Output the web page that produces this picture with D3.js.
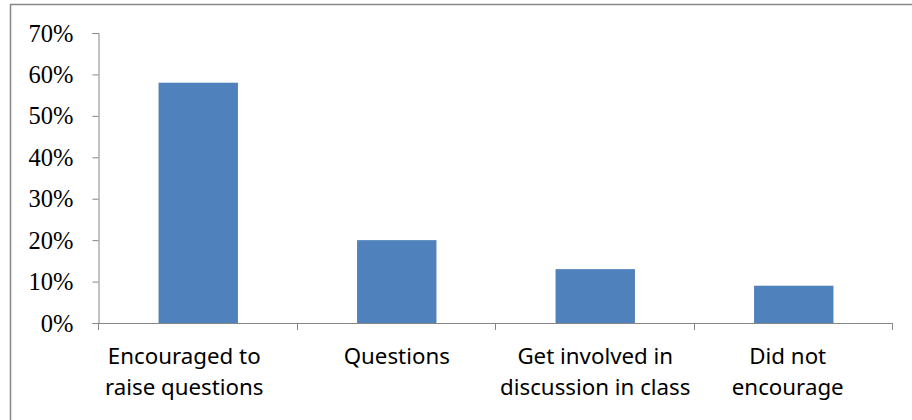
<!DOCTYPE html>
<html><head><meta charset="utf-8">
<script src="https://cdn.jsdelivr.net/npm/d3@7"></script>
<style>body{margin:0;background:#fff;overflow:hidden}svg{display:block}</style>
</head><body>
<svg id="c" width="912" height="420"></svg>
<script>
const categories = [["Encouraged to","raise questions"],["Questions"],["Get involved in","discussion in class"],["Did not","encourage"]];
const values = [0.58, 0.20, 0.13, 0.09];
const yTicks = [0, 0.1, 0.2, 0.3, 0.4, 0.5, 0.6, 0.7];

(function(){
const svg = d3.select("#c");
svg.append("rect").attr("x",10.5).attr("y",4.5).attr("width",920).attr("height",430)
  .attr("fill","#fff").attr("stroke","#878787").attr("stroke-width",1.5);

const pl=99, pr=893, pt=33, pb=323;
const labelShift = [-14, 0, 0, -6];
const x = d3.scaleBand().domain(d3.range(values.length)).range([pl,pr]).paddingInner(0.6).paddingOuter(0.3);
const xb = d3.scaleBand().domain(d3.range(values.length)).range([pl,pr]);
const y = d3.scaleLinear().domain([0,0.7]).range([pb,pt]);

svg.selectAll(".bar").data(values).enter().append("rect")
  .attr("x",(d,i)=>x(i)).attr("width",x.bandwidth())
  .attr("y",d=>y(d)).attr("height",d=>pb-y(d))
  .attr("fill","#4F81BD");

const yAxis = d3.axisLeft(y).tickValues(yTicks).tickFormat(d3.format(".0%")).tickSize(6).tickPadding(19);
const gy = svg.append("g").attr("transform",`translate(${pl-0.5},0)`).call(yAxis);
gy.select(".domain").attr("stroke","#868686");
gy.selectAll(".tick line").attr("stroke","#868686");
gy.selectAll(".tick text").attr("font-family","'Liberation Serif','Times New Roman',serif")
  .attr("font-size",24.5).attr("fill","#000").attr("dy","0.33em");

const gx = svg.append("g");
gx.append("line").attr("x1",pl-1).attr("x2",pr).attr("y1",pb+0.5).attr("y2",pb+0.5).attr("stroke","#868686");
const bounds = d3.range(values.length+1).map(i=> i<values.length ? xb(i) : xb(i-1)+xb.bandwidth());
gx.selectAll(".xt").data(bounds).enter().append("line")
  .attr("x1",d=>Math.round(d)-0.5).attr("x2",d=>Math.round(d)-0.5)
  .attr("y1",pb).attr("y2",pb+7).attr("stroke","#868686");

categories.forEach((lines,i)=>{
  const cx = xb(i)+xb.bandwidth()/2 + labelShift[i];
  const t = svg.append("text").attr("text-anchor","middle")
    .attr("font-family","'Noto Sans',sans-serif").attr("font-size",22.3).attr("fill","#000");
  lines.forEach((ln,j)=>{
    t.append("tspan").attr("x",cx).attr("y",364+j*31).text(ln);
  });
});
})();
</script>
</body></html>
